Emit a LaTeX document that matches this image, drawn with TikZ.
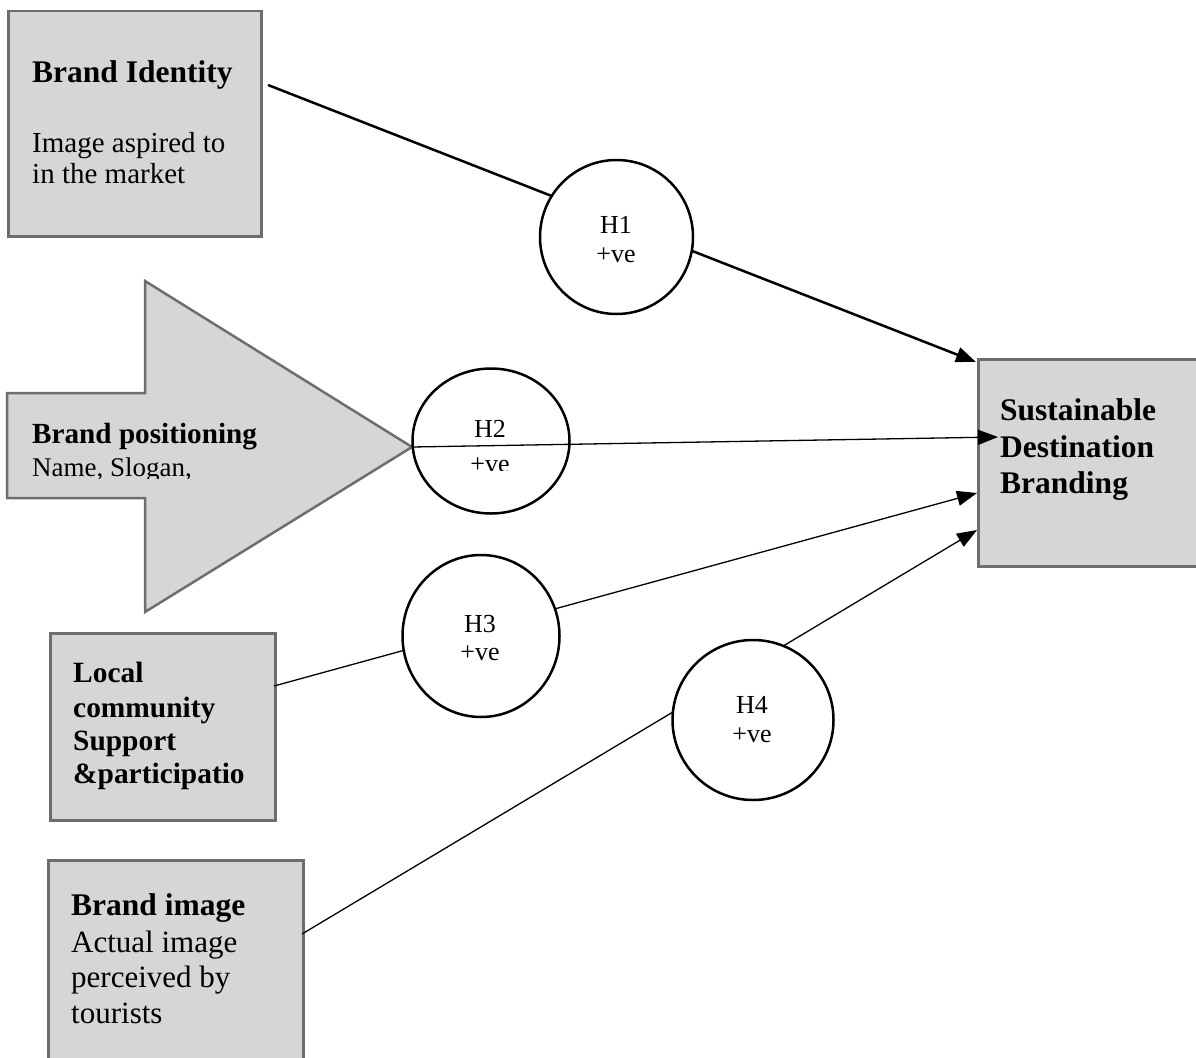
\documentclass[tikz,border=0pt]{standalone}
\usepackage{fontspec}
\setmainfont{Liberation Serif}
\usetikzlibrary{shapes.geometric,arrows.meta}
\definecolor{boxfill}{HTML}{D6D6D6}
\definecolor{boxline}{HTML}{6E6E6E}
\begin{document}
\begin{tikzpicture}[x=1pt,y=-1pt,
  gbox/.style={draw=boxline,fill=boxfill,line width=2.5pt,inner sep=0pt,anchor=north west},
  hyp/.style={ellipse,draw=black,fill=white,line width=2.5pt,inner sep=0pt},
  bt/.style={anchor=base west,inner sep=0pt,font=\fontsize{30}{34}\selectfont\bfseries},
  rt/.style={anchor=base west,inner sep=0pt,font=\fontsize{29}{33}\selectfont},
  ct/.style={anchor=base,inner sep=0pt,font=\fontsize{26}{30}\selectfont},
  link/.style={line width=1.3pt},
  tip/.style={-{Triangle[length=20pt,width=15pt]}}
]
\useasboundingbox (0,0) rectangle (1196,1057);

% boxes
\node[gbox,minimum width=253pt,minimum height=225pt] (bi) at (7,10) {};
\node[gbox,minimum width=225pt,minimum height=187pt] (lc) at (49,632) {};
\node[gbox,minimum width=255pt,minimum height=230pt] (bim) at (47,859) {};
\node[gbox,minimum width=233pt,minimum height=207pt] (sdb) at (977,358) {};
\draw[draw=boxline,fill=boxfill,line width=2.5pt,line join=miter]
  (7,393) -- (145,393) -- (145,281) -- (412,447) -- (145,612) -- (145,498) -- (7,498) -- cycle;
\coordinate (bptip) at (412,447);

% connector end points
\coordinate (s1) at (268,85);
\coordinate (e1) at (976,362);
\coordinate (e2) at (998,437);
\coordinate (s3) at (274,686);
\coordinate (e3) at (977,493);
\coordinate (s4) at (302,934);
\coordinate (e4) at (977,530);

\draw[tip,line width=2.5pt] (s1) -- (e1);
\draw[tip,link] (s3) -- (e3);
\draw[tip,link] (s4) -- (e4);

% hypothesis circles
\node[hyp,minimum width=153pt,minimum height=154pt] (h1) at (616.5,237) {};
\node[hyp,minimum width=157pt,minimum height=145pt] (h2) at (491,441) {};
\node[hyp,minimum width=157pt,minimum height=162pt] (h3) at (481,636) {};
\node[hyp,minimum width=161pt,minimum height=160pt] (h4) at (753,720) {};

\draw[tip,link] (bptip) -- (e2);

% circle texts
\node[ct] (h1a) at (616,233) {H1};
\node[ct] (h1b) at (616,262) {+ve};
\node[ct] (h2a) at (490,437) {H2};
\begin{scope}
\clip (0,0) rectangle (1196,470);
\node[ct] (h2b) at (490,472) {+ve};
\end{scope}
\node[ct] (h3a) at (480,632) {H3};
\node[ct] (h3b) at (480,660) {+ve};
\node[ct] (h4a) at (752,713) {H4};
\node[ct] (h4b) at (752,742) {+ve};

% box texts
\node[bt,font=\fontsize{31.5}{35}\selectfont\bfseries] (bi1) at (32,82) {Brand Identity};
\node[rt] (bi2) at (32,152) {Image aspired to};
\node[rt] (bi3) at (32,183) {in the market};

\node[bt,font=\fontsize{29.2}{33}\selectfont\bfseries] (bp1) at (32,443) {Brand positioning};
\begin{scope}
\clip (0,0) rectangle (1196,478);
\node[rt,font=\fontsize{27}{31}\selectfont] (bp2) at (32,476) {Name, Slogan,};
\end{scope}

\node[bt,font=\fontsize{29.4}{33}\selectfont\bfseries] (lc1) at (73,682) {Local};
\node[bt,font=\fontsize{29.4}{33}\selectfont\bfseries] (lc2) at (73,717) {community};
\node[bt,font=\fontsize{29.4}{33}\selectfont\bfseries] (lc3) at (73,750) {Support};
\node[bt,font=\fontsize{29.4}{33}\selectfont\bfseries] (lc4) at (73,783) {\&participatio};

\node[bt,font=\fontsize{31.5}{35}\selectfont\bfseries] (bm1) at (71,915) {Brand image};
\node[rt,font=\fontsize{31}{35}\selectfont] (bm2) at (71,952) {Actual image};
\node[rt,font=\fontsize{31}{35}\selectfont] (bm3) at (71,987) {perceived by};
\node[rt,font=\fontsize{31}{35}\selectfont] (bm4) at (71,1023) {tourists};

\node[bt,font=\fontsize{31.5}{35}\selectfont\bfseries] (sd1) at (1000,420) {Sustainable};
\node[bt,font=\fontsize{31.5}{35}\selectfont\bfseries] (sd2) at (1000,457) {Destination};
\node[bt,font=\fontsize{31.5}{35}\selectfont\bfseries] (sd3) at (1000,493) {Branding};
\end{tikzpicture}
\end{document}
